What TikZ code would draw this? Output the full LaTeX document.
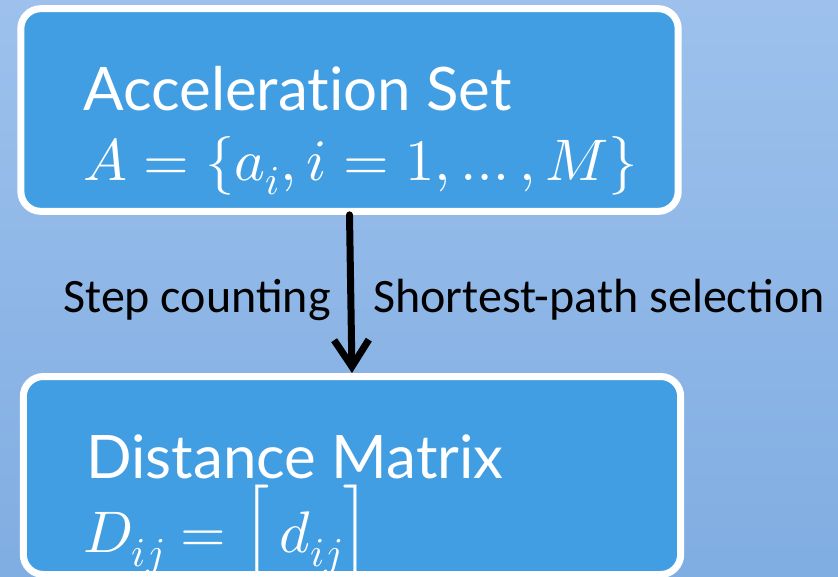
\documentclass[tikz,border=0pt]{standalone}
\usepackage{unicode-math}
\setmainfont{Lato}[Ligatures=NoCommon]
\setmathfont{Latin Modern Math}
\newfontfamily\labelfont{Carlito}
\usepackage{tikz}
\usetikzlibrary{arrows.meta}
\usepackage{xcolor}
\definecolor{boxblue}{RGB}{66,158,226}
\definecolor{skytop}{RGB}{157,193,236}
\definecolor{skybot}{RGB}{128,173,226}

\begin{document}
\begin{tikzpicture}[x=0.75pt,y=-0.75pt,line cap=round,
  panel/.style={draw=white,line width=5.25pt,fill=boxblue,rounded corners=15pt,
    minimum width=493pt,minimum height=152pt,inner sep=0pt},
  head/.style={text=white,anchor=base west,inner sep=0pt,font=\fontsize{45}{50}\selectfont},
  formula/.style={text=white,anchor=base west,inner sep=0pt,font=\fontsize{44}{48}\selectfont},
  lbl/.style={text=black,inner sep=0pt,font=\labelfont\fontsize{36}{40}\selectfont},
  flow/.style={line width=5.25pt,-{Straight Barb[length=20pt,width=26pt]}}]
\useasboundingbox (0,0) rectangle (838,576);
\shade[top color=skytop,bottom color=skybot] (0,0) rectangle (838,576);
\node[panel] (acc) at (349.5,110) {};
\node[panel,minimum height=148.5pt] (dist) at (352,475.5) {};
\node[head] (acctitle) at (83,110) {Acceleration Set};
\node[formula] (accset) at (83,180) {$A=\{a_i,i=1,\dots,M\}$};
\node[head] (disttitle) at (86,478) {Distance Matrix};
\node[formula] (distmat) at (83,552) {$D_{ij}=\Bigl[\,d_{ij}\Bigr]$};
\draw[flow] (acc.south) -- (dist.north);
\node[lbl,anchor=base east] (stepcnt) at (331,312) {Step counting};
\node[lbl,anchor=base west] (shortp) at (373,312) {Shortest-path selection};
\end{tikzpicture}
\end{document}
